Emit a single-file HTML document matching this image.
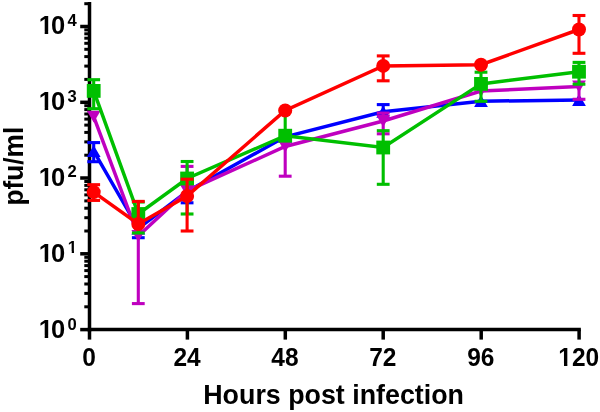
<!DOCTYPE html>
<html><head><meta charset="utf-8"><title>Growth curve</title>
<style>html,body{margin:0;padding:0;background:#fff}svg{display:block}</style>
</head><body>
<svg width="600" height="412" viewBox="0 0 600 412">
<rect width="600" height="412" fill="#fff"/>
<g stroke="#000" stroke-width="3.5" fill="none" stroke-linecap="butt">
<path d="M89.5 1.9V331.4"/>
<path d="M87.7 329.6H580.85"/>
<path d="M89.5 329.6V339.6"/>
<path d="M187.4 329.6V339.6"/>
<path d="M285.3 329.6V339.6"/>
<path d="M383.2 329.6V339.6"/>
<path d="M481.2 329.6V339.6"/>
<path d="M579.1 329.6V339.6"/>
<path d="M89.5 329.6H80.2"/>
<path d="M89.5 253.8H80.2"/>
<path d="M89.5 178.0H80.2"/>
<path d="M89.5 102.3H80.2"/>
<path d="M89.5 26.5H80.2"/>
</g>
<g stroke="#000" stroke-width="3.0" fill="none">
<path d="M89.5 306.8H84.3"/>
<path d="M89.5 293.4H84.3"/>
<path d="M89.5 284.0H84.3"/>
<path d="M89.5 276.6H84.3"/>
<path d="M89.5 270.6H84.3"/>
<path d="M89.5 265.6H84.3"/>
<path d="M89.5 261.2H84.3"/>
<path d="M89.5 257.3H84.3"/>
<path d="M89.5 231.0H84.3"/>
<path d="M89.5 217.7H84.3"/>
<path d="M89.5 208.2H84.3"/>
<path d="M89.5 200.9H84.3"/>
<path d="M89.5 194.9H84.3"/>
<path d="M89.5 189.8H84.3"/>
<path d="M89.5 185.4H84.3"/>
<path d="M89.5 181.5H84.3"/>
<path d="M89.5 155.2H84.3"/>
<path d="M89.5 141.9H84.3"/>
<path d="M89.5 132.4H84.3"/>
<path d="M89.5 125.1H84.3"/>
<path d="M89.5 119.1H84.3"/>
<path d="M89.5 114.0H84.3"/>
<path d="M89.5 109.6H84.3"/>
<path d="M89.5 105.7H84.3"/>
<path d="M89.5 79.4H84.3"/>
<path d="M89.5 66.1H84.3"/>
<path d="M89.5 56.6H84.3"/>
<path d="M89.5 49.3H84.3"/>
<path d="M89.5 43.3H84.3"/>
<path d="M89.5 38.2H84.3"/>
<path d="M89.5 33.8H84.3"/>
<path d="M89.5 29.9H84.3"/>
<path d="M89.5 3.7H84.3"/>
</g>
<g stroke="#0000ff" fill="#0000ff" stroke-width="3.1" stroke-linecap="butt" stroke-linejoin="miter">
<path d="M93.7 151.2V142.6" fill="none"/><path d="M87.3 142.6H100.1" fill="none" stroke-width="3.1"/>
<path d="M93.7 151.2V161.7" fill="none"/><path d="M87.3 161.7H100.1" fill="none" stroke-width="3.1"/>
<path d="M138.3 228.5V237.7" fill="none"/><path d="M131.9 237.7H144.7" fill="none" stroke-width="3.1"/>
<path d="M187.1 191.5V183.9" fill="none"/><path d="M180.7 183.9H193.5" fill="none" stroke-width="3.1"/>
<path d="M187.1 191.5V202.8" fill="none"/><path d="M180.7 202.8H193.5" fill="none" stroke-width="3.1"/>
<path d="M383.2 111.8V104.6" fill="none"/><path d="M376.8 104.6H389.6" fill="none" stroke-width="3.1"/>
<polyline points="93.7,151.2 138.3,228.5 187.1,191.5 285.2,136.8 383.2,111.8 481.0,101.2 579.0,100.1" fill="none" stroke-width="3.5"/>
<path d="M93.7 145.2L100.6 157.1H86.8Z" stroke="none"/>
<path d="M138.3 222.5L145.2 234.4H131.4Z" stroke="none"/>
<path d="M187.1 185.5L194.0 197.4H180.2Z" stroke="none"/>
<path d="M285.2 130.8L292.1 142.7H278.3Z" stroke="none"/>
<path d="M383.2 105.8L390.1 117.7H376.3Z" stroke="none"/>
<path d="M481.0 95.2L487.9 107.1H474.1Z" stroke="none"/>
<path d="M579.0 94.1L585.9 106.0H572.1Z" stroke="none"/>
</g>
<g stroke="#bf00bf" fill="#bf00bf" stroke-width="3.1" stroke-linecap="butt" stroke-linejoin="miter">
<path d="M138.3 236.0V303.6" fill="none"/><path d="M131.9 303.6H144.7" fill="none" stroke-width="3.1"/>
<path d="M187.1 190.8V166.4" fill="none"/><path d="M180.7 166.4H193.5" fill="none" stroke-width="3.1"/>
<path d="M285.2 146.5V176.2" fill="none"/><path d="M278.8 176.2H291.6" fill="none" stroke-width="3.1"/>
<path d="M383.2 121.0V113.1" fill="none"/><path d="M376.8 113.1H389.6" fill="none" stroke-width="3.1"/>
<path d="M383.2 121.0V133.8" fill="none"/><path d="M376.8 133.8H389.6" fill="none" stroke-width="3.1"/>
<path d="M579.0 86.4V99.3" fill="none"/><path d="M572.6 99.3H585.4" fill="none" stroke-width="3.1"/>
<polyline points="93.7,116.6 138.3,236.0 187.1,190.8 285.2,146.5 383.2,121.0 481.0,91.0 579.0,86.4" fill="none" stroke-width="3.5"/>
<path d="M93.7 122.6L100.6 110.7H86.8Z" stroke="none"/>
<path d="M138.3 242.0L145.2 230.1H131.4Z" stroke="none"/>
<path d="M187.1 196.8L194.0 184.9H180.2Z" stroke="none"/>
<path d="M285.2 152.5L292.1 140.6H278.3Z" stroke="none"/>
<path d="M383.2 127.0L390.1 115.1H376.3Z" stroke="none"/>
<path d="M481.0 97.0L487.9 85.1H474.1Z" stroke="none"/>
<path d="M579.0 92.4L585.9 80.5H572.1Z" stroke="none"/>
</g>
<g stroke="#00bf00" fill="#00bf00" stroke-width="3.1" stroke-linecap="butt" stroke-linejoin="miter">
<path d="M93.7 90.9V79.7" fill="none"/><path d="M87.3 79.7H100.1" fill="none" stroke-width="3.1"/>
<path d="M93.7 90.9V108.7" fill="none"/><path d="M87.3 108.7H100.1" fill="none" stroke-width="3.1"/>
<path d="M138.3 214.0V202.0" fill="none"/><path d="M131.9 202.0H144.7" fill="none" stroke-width="3.1"/>
<path d="M138.3 214.0V233.0" fill="none"/><path d="M131.9 233.0H144.7" fill="none" stroke-width="3.1"/>
<path d="M187.1 178.5V161.5" fill="none"/><path d="M180.7 161.5H193.5" fill="none" stroke-width="3.1"/>
<path d="M187.1 178.5V214.0" fill="none"/><path d="M180.7 214.0H193.5" fill="none" stroke-width="3.1"/>
<path d="M285.2 135.7V111.0" fill="none"/><path d="M278.8 111.0H291.6" fill="none" stroke-width="3.1"/>
<path d="M383.2 147.5V130.7" fill="none"/><path d="M376.8 130.7H389.6" fill="none" stroke-width="3.1"/>
<path d="M383.2 147.5V184.3" fill="none"/><path d="M376.8 184.3H389.6" fill="none" stroke-width="3.1"/>
<path d="M481.0 83.9V72.2" fill="none"/><path d="M474.6 72.2H487.4" fill="none" stroke-width="3.1"/>
<path d="M481.0 83.9V101.3" fill="none"/><path d="M474.6 101.3H487.4" fill="none" stroke-width="3.1"/>
<path d="M579.0 71.7V62.4" fill="none"/><path d="M572.6 62.4H585.4" fill="none" stroke-width="3.1"/>
<path d="M579.0 71.7V84.2" fill="none"/><path d="M572.6 84.2H585.4" fill="none" stroke-width="3.1"/>
<polyline points="93.7,90.9 138.3,214.0 187.1,178.5 285.2,135.7 383.2,147.5 481.0,83.9 579.0,71.7" fill="none" stroke-width="3.5"/>
<rect x="86.8" y="84.0" width="13.8" height="13.8" stroke="none"/>
<rect x="131.4" y="207.1" width="13.8" height="13.8" stroke="none"/>
<rect x="180.2" y="171.6" width="13.8" height="13.8" stroke="none"/>
<rect x="278.3" y="128.8" width="13.8" height="13.8" stroke="none"/>
<rect x="376.3" y="140.6" width="13.8" height="13.8" stroke="none"/>
<rect x="474.1" y="77.0" width="13.8" height="13.8" stroke="none"/>
<rect x="572.1" y="64.8" width="13.8" height="13.8" stroke="none"/>
</g>
<g stroke="#ff0000" fill="#ff0000" stroke-width="3.1" stroke-linecap="butt" stroke-linejoin="miter">
<path d="M93.7 192.1V184.7" fill="none"/><path d="M87.3 184.7H100.1" fill="none" stroke-width="3.1"/>
<path d="M93.7 192.1V200.4" fill="none"/><path d="M87.3 200.4H100.1" fill="none" stroke-width="3.1"/>
<path d="M138.3 224.0V201.4" fill="none"/><path d="M131.9 201.4H144.7" fill="none" stroke-width="3.1"/>
<path d="M187.1 196.0V179.2" fill="none"/><path d="M180.7 179.2H193.5" fill="none" stroke-width="3.1"/>
<path d="M187.1 196.0V231.0" fill="none"/><path d="M180.7 231.0H193.5" fill="none" stroke-width="3.1"/>
<path d="M383.2 65.9V55.9" fill="none"/><path d="M376.8 55.9H389.6" fill="none" stroke-width="3.1"/>
<path d="M383.2 65.9V80.8" fill="none"/><path d="M376.8 80.8H389.6" fill="none" stroke-width="3.1"/>
<path d="M579.0 29.5V15.5" fill="none"/><path d="M572.6 15.5H585.4" fill="none" stroke-width="3.1"/>
<path d="M579.0 29.5V53.3" fill="none"/><path d="M572.6 53.3H585.4" fill="none" stroke-width="3.1"/>
<polyline points="93.7,192.1 138.3,224.0 187.1,196.0 285.2,110.5 383.2,65.9 481.0,64.7 579.0,29.5" fill="none" stroke-width="3.5"/>
<circle cx="93.7" cy="192.1" r="7.0" stroke="none"/>
<circle cx="138.3" cy="224.0" r="7.0" stroke="none"/>
<circle cx="187.1" cy="196.0" r="7.0" stroke="none"/>
<circle cx="285.2" cy="110.5" r="7.0" stroke="none"/>
<circle cx="383.2" cy="65.9" r="7.0" stroke="none"/>
<circle cx="481.0" cy="64.7" r="7.0" stroke="none"/>
<circle cx="579.0" cy="29.5" r="7.0" stroke="none"/>
</g>
<g font-family="'Liberation Sans', Arial, sans-serif" font-weight="bold" fill="#000">
<text transform="translate(89.0 366.4) scale(0.96 1)" font-size="25.5" text-anchor="middle">0</text>
<text transform="translate(187.0 366.4) scale(0.96 1)" font-size="25.5" text-anchor="middle">24</text>
<text transform="translate(284.9 366.4) scale(0.96 1)" font-size="25.5" text-anchor="middle">48</text>
<text transform="translate(382.8 366.4) scale(0.96 1)" font-size="25.5" text-anchor="middle">72</text>
<text transform="translate(480.8 366.4) scale(0.96 1)" font-size="25.5" text-anchor="middle">96</text>
<text transform="translate(578.7 366.4) scale(0.96 1)" font-size="25.5" text-anchor="middle">120</text>
<text font-size="25.5" y="338.00"><tspan x="38.75">1</tspan><tspan x="50.95">0</tspan></text>
<text x="67.4" y="330.00" font-size="16.6" text-anchor="start">0</text>
<text font-size="25.5" y="262.00"><tspan x="38.75">1</tspan><tspan x="50.95">0</tspan></text>
<text x="67.85" y="253.00" font-size="16.6" text-anchor="start">1</text>
<text font-size="25.5" y="186.00"><tspan x="38.75">1</tspan><tspan x="50.95">0</tspan></text>
<text x="67.4" y="177.00" font-size="16.6" text-anchor="start">2</text>
<text font-size="25.5" y="110.00"><tspan x="38.75">1</tspan><tspan x="50.95">0</tspan></text>
<text x="67.4" y="102.00" font-size="16.6" text-anchor="start">3</text>
<text font-size="25.5" y="34.00"><tspan x="38.75">1</tspan><tspan x="50.95">0</tspan></text>
<text x="67.4" y="26.00" font-size="16.6" text-anchor="start">4</text>
<text transform="translate(333.6 404.0) scale(0.972 1)" font-size="27.6" text-anchor="middle">Hours post infection</text>
<text transform="translate(22.5 166.1) rotate(-90) scale(0.95 1)" font-size="27.6" text-anchor="middle">pfu/ml</text>
</g>
<g fill="#fff"><rect x="40" y="335" width="4.7" height="4"/><rect x="48.2" y="335" width="4.8" height="4"/><rect x="40" y="259" width="4.7" height="4"/><rect x="48.2" y="259" width="4.8" height="4"/><rect x="68.00" y="251" width="3.72" height="3"/><rect x="74.00" y="251" width="3.2" height="3"/><rect x="40" y="183" width="4.7" height="4"/><rect x="48.2" y="183" width="4.8" height="4"/><rect x="40" y="107" width="4.7" height="4"/><rect x="48.2" y="107" width="4.8" height="4"/><rect x="40" y="31" width="4.7" height="4"/><rect x="48.2" y="31" width="4.8" height="4"/><rect x="559" y="363" width="5.0" height="4"/><rect x="567.35" y="363" width="4.65" height="4"/></g>
</svg>
</body></html>
